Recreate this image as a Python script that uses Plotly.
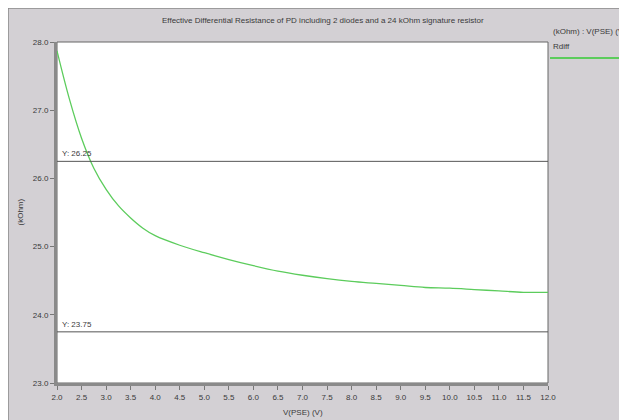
import plotly.graph_objects as go

# ---- data ----
v_pse = [2.0, 2.25, 2.5, 2.75, 3.0, 3.25, 3.5, 3.75, 4.0, 4.5, 5.0, 5.5, 6.0, 6.5, 7.0,
         7.5, 8.0, 8.5, 9.0, 9.5, 10.0, 10.5, 11.0, 11.5, 12.0]
rdiff = [27.87, 27.17, 26.59, 26.15, 25.84, 25.60, 25.42, 25.27, 25.16, 25.02, 24.91,
         24.81, 24.72, 24.64, 24.58, 24.53, 24.49, 24.46, 24.43, 24.40, 24.39, 24.37,
         24.35, 24.33, 24.33]
ref_levels = [26.25, 23.75]
ref_labels = ["Y: 26.25", "Y: 23.75"]
title_text = "Effective Differential Resistance of PD including 2 diodes and a 24 kOhm signature resistor"
x_title = "V(PSE) (V)"
y_title = "(kOhm)"
legend_header = "(kOhm) : V(PSE) (V)"
series_name = "Rdiff"

# ---- layout geometry (page pixels; figure sits at an 8px page offset) ----
OFF = 8
W, H = 627 - OFF, 420 - OFF
L, R, T, B = 57, 548, 42, 383          # plot area in page pixels
pw, ph = R - L, B - T


def px(x):
    return (x - L) / pw


def py(y):
    return (B - y) / ph


FONT = "Liberation Sans"
TXT = "#3a3a3a"
GREEN = "#5ccc5c"
BG = "#d3d0d4"

fig = go.Figure()
fig.add_trace(go.Scatter(x=v_pse, y=rdiff, mode="lines", name=series_name,
                         line=dict(color=GREEN, width=1.3, shape="spline"),
                         showlegend=False, hoverinfo="skip"))

shapes = [
    # window border lines (left and top)
    dict(type="line", xref="paper", yref="paper", x0=px(OFF), x1=px(OFF), y0=py(OFF), y1=py(440),
         line=dict(color="#8a8a8a", width=1.5), layer="below"),
    dict(type="line", xref="paper", yref="paper", x0=px(OFF), x1=px(640), y0=py(OFF), y1=py(OFF),
         line=dict(color="#8a8a8a", width=1.5), layer="below"),
    # white plot area with thin border
    dict(type="rect", xref="paper", yref="paper", x0=0, x1=1, y0=0, y1=1,
         fillcolor="white", line=dict(color="#666666", width=1), layer="below"),
    # legend line swatch
    dict(type="line", xref="paper", yref="paper", x0=px(550), x1=px(640), y0=py(58), y1=py(58),
         line=dict(color=GREEN, width=2)),
]
annotations = []
for lvl, lab in zip(ref_levels, ref_labels):
    shapes.append(dict(type="line", xref="paper", yref="y", x0=0, x1=1, y0=lvl, y1=lvl,
                       line=dict(color="#555555", width=1)))
    annotations.append(dict(text=lab, xref="paper", yref="y", x=px(60), y=lvl,
                            xanchor="left", yanchor="bottom", showarrow=False, yshift=1,
                            font=dict(family=FONT, size=8, color=TXT)))

annotations += [
    dict(text=title_text, xref="paper", yref="paper", x=px(323), y=py(20),
         xanchor="center", yanchor="middle", showarrow=False,
         font=dict(family=FONT, size=8, color=TXT)),
    dict(text=x_title, xref="paper", yref="paper", x=px(303), y=py(412),
         xanchor="center", yanchor="middle", showarrow=False,
         font=dict(family=FONT, size=8, color=TXT)),
    dict(text=y_title, xref="paper", yref="paper", x=px(20), y=0.5, textangle=-90,
         xanchor="center", yanchor="middle", showarrow=False,
         font=dict(family=FONT, size=8, color=TXT)),
    dict(text=legend_header, xref="paper", yref="paper", x=px(551), y=py(31),
         xanchor="left", yanchor="middle", showarrow=False,
         font=dict(family=FONT, size=8, color=TXT)),
    dict(text=series_name, xref="paper", yref="paper", x=px(551), y=py(46),
         xanchor="left", yanchor="middle", showarrow=False,
         font=dict(family=FONT, size=8, color=TXT)),
]

axis_common = dict(showgrid=False, zeroline=False, showline=True, linecolor="#8a8a8a",
                   linewidth=3, ticks="outside", ticklen=4, tickcolor="#777777",
                   tickwidth=1, tickformat=".1f",
                   tickfont=dict(family=FONT, size=8, color=TXT), fixedrange=True)

fig.update_layout(
    width=W, height=H,
    margin=dict(l=L - OFF, r=(W + OFF) - R, t=T - OFF, b=(H + OFF) - B, pad=0),
    paper_bgcolor=BG, plot_bgcolor="white",
    xaxis=dict(range=[2, 12], tick0=2, dtick=0.5, **axis_common),
    yaxis=dict(range=[23, 28], tick0=23, dtick=1, **axis_common),
    shapes=shapes, annotations=annotations,
    showlegend=False,
)

fig.write_html("out.html")
